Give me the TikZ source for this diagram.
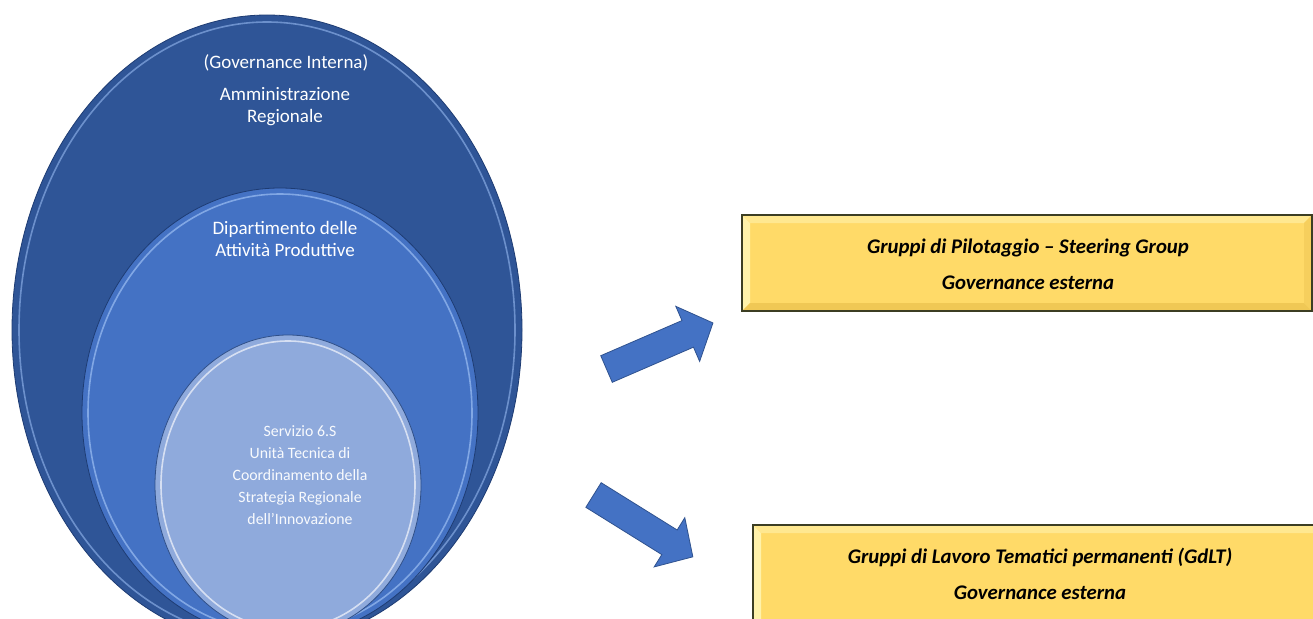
\documentclass[tikz,border=0pt]{standalone}
\usepackage{fontspec}
\setmainfont{Carlito}
\usetikzlibrary{shapes.geometric}
\definecolor{outerblue}{RGB}{47,85,151}
\definecolor{midblue}{RGB}{68,114,196}
\definecolor{innerblue}{RGB}{143,170,220}
\definecolor{rimlight}{RGB}{150,185,240}
\definecolor{rimdark}{RGB}{30,60,115}
\definecolor{boxfill}{RGB}{255,218,104}
\definecolor{boxlight}{RGB}{255,242,170}
\definecolor{boxdark}{RGB}{240,200,85}
\definecolor{boxborder}{RGB}{60,62,35}
\definecolor{arrowedge}{RGB}{47,82,143}
\tikzset{
  ell/.style={ellipse, inner sep=0pt, draw=rimdark, line width=0.8pt},
  rim/.style={ellipse, inner sep=0pt, draw=#1, line width=1.6pt, opacity=0.75},
  lefttext/.style={text=white, align=center, font=\fontsize{19}{22}\selectfont},
  innertext/.style={text=white!94!innerblue, align=center, font=\fontsize{15.8}{22}\selectfont},
  boxtext/.style={text=black, align=center, font=\fontsize{20.8}{36}\selectfont\bfseries\itshape},
  bluearrow/.style={fill=midblue, draw=arrowedge, line width=0.8pt, line join=miter},
}
\begin{document}
\begin{tikzpicture}[x=1pt,y=-1pt]
\useasboundingbox (0,0) rectangle (1313,618);
\clip (0,0) rectangle (1313,618);
\fill[white] (0,0) rectangle (1313,618);

% outer ellipse
\node[ell, fill=outerblue, minimum width=510pt, minimum height=630pt] (outer) at (267,330) {};
\node[rim=rimlight!80!outerblue, minimum width=496pt, minimum height=616pt] (outerrim) at (267,330) {};
% middle ellipse
\node[ell, fill=midblue, minimum width=396pt, minimum height=450pt] (middle) at (280,413) {};
\node[rim=rimlight, minimum width=384pt, minimum height=438pt] (middlerim) at (280,413) {};
% inner ellipse
\node[ell, fill=innerblue, draw=midblue!70!black, minimum width=266pt, minimum height=300pt] (inner) at (288,485) {};
\node[rim=white!85!innerblue, minimum width=254pt, minimum height=288pt] (innerrim) at (288,485) {};

% texts
\node[lefttext] (govint) at (286,63) {(Governance Interna)};
\node[lefttext] (ammreg) at (285,107) {Amministrazione\\Regionale};
\node[lefttext] (dip) at (285,239) {Dipartimento delle\\Attività Produttive};
\node[innertext] (serv) at (300,475) {Servizio 6.S\\Unità Tecnica di\\Coordinamento della\\Strategia Regionale\\dell’Innovazione};

% arrows
\coordinate (a1) at (606.5,369);
\coordinate (a2) at (593.5,495);
\begin{scope}[shift={(a1)}, rotate=23.4, x=1pt, y=1pt]
  \draw[bluearrow] (0,-14.5) -- (88.5,-14.5) -- (88.5,-30) -- (116,0) -- (88.5,30) -- (88.5,14.5) -- (0,14.5) -- cycle;
\end{scope}
\begin{scope}[shift={(a2)}, rotate=-31.9, x=1pt, y=1pt]
  \draw[bluearrow] (0,-14.5) -- (89.5,-14.5) -- (89.5,-29) -- (117,0) -- (89.5,29) -- (89.5,14.5) -- (0,14.5) -- cycle;
\end{scope}

% box 1
\coordinate (b1a) at (742,215);
\coordinate (b1b) at (1312,311);
\fill[boxfill] (b1a) rectangle (b1b);
\fill[boxlight] (742,215) -- (750,223) -- (750,303) -- (742,311) -- cycle;
\fill[boxlight!60!boxfill] (742,215) -- (1312,215) -- (1304,223) -- (750,223) -- cycle;
\fill[boxdark] (742,311) -- (750,303) -- (1304,303) -- (1312,311) -- cycle;
\fill[boxdark!60!boxfill] (1312,215) -- (1312,311) -- (1304,303) -- (1304,223) -- cycle;
\draw[boxborder, line width=1.6pt] (b1a) rectangle (b1b);
\node[boxtext] (box1) at (1028,264) {Gruppi di Pilotaggio – Steering Group\\Governance esterna};

% box 2
\coordinate (b2a) at (753,525);
\coordinate (b2b) at (1322,628);
\fill[boxfill] (b2a) rectangle (b2b);
\fill[boxlight] (753,525) -- (761,533) -- (761,620) -- (753,628) -- cycle;
\fill[boxlight!60!boxfill] (753,525) -- (1322,525) -- (1314,533) -- (761,533) -- cycle;
\draw[boxborder, line width=1.6pt] (b2a) rectangle (b2b);
\node[boxtext] (box2) at (1040,574) {Gruppi di Lavoro Tematici permanenti (GdLT)\\Governance esterna};
\end{tikzpicture}
\end{document}
